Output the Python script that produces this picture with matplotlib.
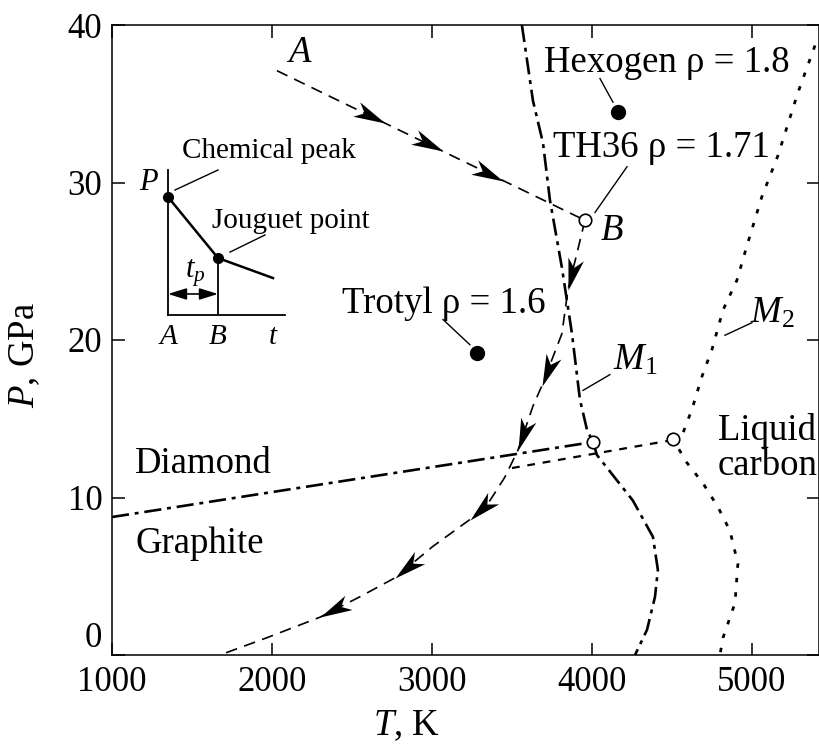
import numpy as np
import matplotlib.pyplot as plt
from matplotlib.path import Path
from matplotlib.markers import MarkerStyle
from matplotlib.transforms import Affine2D

plt.rcParams['font.family'] = ['Liberation Serif', 'DejaVu Serif']
plt.rcParams['mathtext.fontset'] = 'custom'
plt.rcParams['mathtext.rm'] = 'Liberation Serif'
plt.rcParams['mathtext.it'] = 'Liberation Serif:italic'

# =========================
# DATA (T in K, P in GPa)
# =========================
# detonation trajectory A -> B (chemical peak to Jouguet point)
ab_T = [2031, 3956]
ab_P = [37.1, 27.6]
ab_arrow_T = [2706, 3069, 3444]

# expansion isentrope from B
exp_T = [3956, 3906, 3850, 3812, 3687, 3631, 3537, 3456, 3362, 3237,
         3006, 2769, 2550, 2300, 1969, 1675]
exp_P = [27.6, 25.5, 23.2, 20.4, 17.1, 15.8, 13.0, 11.3, 9.8, 8.6,
         6.9, 4.9, 3.7, 2.4, 1.1, 0.0]
exp_arrow_T = [3850, 3687, 3537, 3237, 2769, 2300]

# graphite / diamond boundary
gd_T = [1000, 4006]
gd_P = [8.76, 13.52]

# melting curve M1 (diamond), upper and lower branches
m1_up_T = [3562, 3631, 3694, 3737, 3812, 3875, 3925, 3969, 4006]
m1_up_P = [40.0, 35.2, 32.5, 28.9, 24.6, 20.4, 16.2, 14.3, 13.52]
m1_lo_T = [4006, 4031, 4256, 4381, 4412, 4394, 4344, 4269]
m1_lo_P = [13.52, 12.7, 9.8, 7.5, 5.4, 3.7, 1.6, 0.0]

# extended boundary to M2
ext_T = [3500, 4506]
ext_P = [11.87, 13.65]

# melting curve M2
m2_T = [5394, 5287, 5162, 5062, 4969, 4906, 4819, 4750, 4688, 4625, 4569,
        4506, 4594, 4694, 4787, 4862, 4912, 4894, 4819, 4800]
m2_P = [38.7, 35.7, 31.7, 29.1, 26.0, 23.8, 21.9, 19.4, 17.7, 15.6, 14.1,
        13.7, 12.2, 10.9, 9.4, 7.9, 5.8, 3.3, 1.1, 0.0]

# explosives (filled) and triple points (open)
hex_T, hex_P = 4162, 34.5
tro_T, tro_P = 3281, 19.2
open_T = [3956, 4006, 4506]
open_P = [27.6, 13.52, 13.7]

# inset: pressure profile vs time
ins_t = [0.0, 0.427, 0.897]
ins_p = [0.814, 0.393, 0.255]

# =========================
# FIGURE
# =========================
fig = plt.figure(figsize=(8.19, 7.53), dpi=100)
ax = fig.add_axes([112 / 819, 1 - 655 / 753, 707 / 819, 630 / 753])
ax.set_xlim(1000, 5419)
ax.set_ylim(0, 40)
ax.set_xticks([1000, 2000, 3000, 4000, 5000])
ax.set_yticks([0, 10, 20, 30, 40])
ax.tick_params(direction='in', length=9, width=1.1, top=True, right=True,
               labelsize=25)
ax.tick_params(axis='x', pad=8)
ax.tick_params(axis='y', pad=7)
ax.yaxis.get_major_ticks()[0].label1.set_verticalalignment('bottom')
for s in ax.spines.values():
    s.set_linewidth(1.1)

# curves
ax.plot(ab_T, ab_P, color='k', lw=1.2, ls=(0, (7, 4.5)))
ax.plot(exp_T, exp_P, color='k', lw=1.2, ls=(0, (7, 4.5)))
dashdot = (0, (6.5, 2.2, 1.5, 2.2))
ax.plot(gd_T, gd_P, color='k', lw=1.9, ls=dashdot)
ax.plot(m1_up_T, m1_up_P, color='k', lw=1.9, ls=dashdot)
ax.plot(m1_lo_T, m1_lo_P, color='k', lw=1.9, ls=dashdot)
ax.plot(ext_T, ext_P, color='k', lw=1.6, ls=(0, (3.5, 3.5)))
ax.plot(m2_T, m2_P, color='k', lw=2.0, ls=(0, (1.6, 3.6)))

# stealth arrow head, tip at origin
head = Path([(0, 0), (-2, 0.5), (-1.45, 0), (-2, -0.5), (0, 0)],
            [Path.MOVETO, Path.LINETO, Path.LINETO, Path.LINETO, Path.CLOSEPOLY])


def arrows_on(T, P, tips, back):
    T = np.asarray(T, float)
    P = np.asarray(P, float)
    o = np.argsort(T)
    for t in tips:
        tb = t - back
        p1 = ax.transData.transform((t, np.interp(t, T[o], P[o])))
        p0 = ax.transData.transform((tb, np.interp(tb, T[o], P[o])))
        ang = np.degrees(np.arctan2(p1[1] - p0[1], p1[0] - p0[0]))
        m = MarkerStyle(head, transform=Affine2D().rotate_deg(ang))
        ax.plot(t, np.interp(t, T[o], P[o]), marker=m, ms=46, color='k',
                mew=0, zorder=4)


arrows_on(ab_T, ab_P, ab_arrow_T, 60)
arrows_on(exp_T, exp_P, exp_arrow_T, -40)

# points
ax.plot(open_T, open_P, 'o', ms=9, mfc='white', mec='k', mew=1.2, zorder=5)
ax.plot([hex_T, tro_T], [hex_P, tro_P], 'o', ms=10, color='k', zorder=5)

# labels
fs = 26.5
ax.text(2169, 37.65, 'A', fontsize=fs, style='italic', ha='center')
ax.text(4125, 26.35, 'B', fontsize=fs, style='italic', ha='center')
ax.text(4469, 37.0, 'Hexogen ρ = 1.8', fontsize=fs, ha='center')
ax.plot([4050, 4131], [36.6, 35.1], color='k', lw=1)
ax.text(4437, 31.6, 'TH36 ρ = 1.71', fontsize=fs, ha='center')
ax.plot([4219, 4019], [31.0, 28.1], color='k', lw=1)
ax.text(3075, 21.7, 'Trotyl ρ = 1.6', fontsize=fs, ha='center')
ax.plot([3069, 3237], [21.3, 19.7], color='k', lw=1)
ax.text(4131, 18.1, '$M_1$', fontsize=fs)
ax.plot([3944, 4112], [16.8, 17.8], color='k', lw=1)
ax.text(4988, 21.1, '$M_2$', fontsize=fs)
ax.plot([4831, 5000], [20.3, 21.1], color='k', lw=1)
ax.text(1144, 11.56, 'Diamond', fontsize=fs)
ax.text(1144, 6.48, 'Graphite', fontsize=fs)
ax.text(4787, 13.65, 'Liquid', fontsize=fs)
ax.text(4787, 11.43, 'carbon', fontsize=fs)

fig.text(25 / 819, 1 - 355 / 753, '$P$, GPa', fontsize=fs, rotation=90,
         ha='center', va='center')
fig.text(406 / 819, 1 - 726 / 753, '$T$, K', fontsize=fs,
         ha='center', va='center')

# =========================
# INSET
# =========================
ins = fig.add_axes([168 / 819, 1 - 315 / 753, 117 / 819, 145 / 753])
ins.set_xlim(0, 1)
ins.set_ylim(0, 1)
ins.patch.set_alpha(0)
ins.set_xticks([])
ins.set_yticks([])
ins.spines['top'].set_visible(False)
ins.spines['right'].set_visible(False)
ins.spines['left'].set_linewidth(1.3)
ins.spines['bottom'].set_linewidth(1.3)
ins.plot(ins_t, ins_p, color='k', lw=1.8, clip_on=False)
ins.plot(ins_t[:2], ins_p[:2], 'o', ms=7, color='k', clip_on=False)
ins.vlines(ins_t[1], 0, ins_p[1], color='k', lw=1.3)
ins.annotate('', xy=(0, 0.145), xytext=(ins_t[1], 0.145),
             arrowprops=dict(arrowstyle='<|-|>,head_length=0.8,head_width=0.25',
                             mutation_scale=14, color='k', lw=1.2,
                             shrinkA=0, shrinkB=0))
ifs = 21
ins.text(-0.17, 0.917, 'P', fontsize=22, style='italic', ha='center',
         va='center', clip_on=False)
ins.text(0.23, 0.29, '$t_p$', fontsize=22, ha='center', va='center')
for xx, lab in zip(ins_t, ['A', 'B', 't']):
    ins.text(xx, -0.15, lab, fontsize=21, style='italic', ha='center',
             va='center', clip_on=False)
ins.plot([0.06, 0.427], [0.862, 1.0], color='k', lw=1, clip_on=False)
ins.text(0.863, 1.083, 'Chemical peak', fontsize=ifs, ha='center',
         clip_on=False)
ins.plot([0.53, 0.829], [0.434, 0.552], color='k', lw=1, clip_on=False)
ins.text(1.05, 0.6, 'Jouguet point', fontsize=ifs, ha='center',
         clip_on=False)

fig.savefig('out.png', dpi=100)
